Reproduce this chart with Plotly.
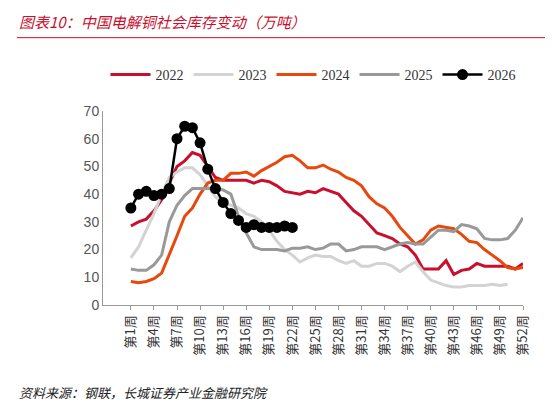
import plotly.graph_objects as go

weeks = [f"第{i}周" for i in range(1, 53)]
tick_weeks = [f"第{i}周" for i in range(1, 53, 3)]
s2022 = [28.5,30,31,34,38,44,50,52,55,54,50,46,45,45,45,45,44,45,44.5,43,41,40.5,40,41,40.5,42,41,40,37,34,32,29,26,25,24,22,21,18,13,13,13,16,11,12.5,13,15,14,14,14,14,13,15]
s2023 = [17,21,27,33,40,46,48,49.5,49.5,47,43,39,37,36,35,33,32,30,27,23,20,18,15.5,17,18,17.5,17.5,16,15,16,14,14,15,15,14,12,14,15.5,12,9,8,7,6.5,6.5,7,7,7,7.5,7,7.5]
s2024 = [8.5,8,8.5,9.5,11.5,18,25,32,35,40,44,45,45,47.5,47.5,48,46.5,48.5,50,51.5,53.5,54,52,49.5,49.5,50.5,49,48,46,45,43,39,36.5,35,32,28,25,22,23.5,27,28.5,28,27.5,25.5,23,22.5,20,18,16,13.5,13,13.5]
s2025 = [13,12.5,12.5,14.5,18,30,36,39.5,42,42,42,42,41.5,40,32,26,21,20,20,20,19.5,20.5,20.5,21,20,20.5,22,22,19.5,20,21,21,21,20,21,22,22.5,22,22,24.5,27,27,26.5,29,28.5,27.5,24,23.5,23.5,24,27,31.5]
s2026 = [35,40,41,39.5,40,42,60,64.5,64,58.5,49,42,37,33,30.5,28,29,28,28,28,28.5,28]

fig = go.Figure()
for name, ys, col in [("2022", s2022, "#C8102E"), ("2023", s2023, "#D3D3D3"),
                      ("2024", s2024, "#E8480C"), ("2025", s2025, "#999999")]:
    fig.add_trace(go.Scatter(x=weeks[:len(ys)], y=ys, name=name, mode="lines",
                             line=dict(color=col, width=3)))
fig.add_trace(go.Scatter(x=weeks[:len(s2026)], y=s2026, name="2026", mode="lines+markers",
                         line=dict(color="black", width=2.5), marker=dict(size=11, color="black")))

fig.update_layout(
    width=553, height=402, paper_bgcolor="white", plot_bgcolor="white",
    margin=dict(l=95, r=38, t=103, b=105, autoexpand=False),
    font=dict(family="Times New Roman, Liberation Serif, Noto Sans CJK SC", color="#333", size=13),
    legend=dict(orientation="h", x=0.5, xanchor="center", y=1.186, yanchor="middle",
                font=dict(size=14), itemwidth=40, tracegroupgap=0),
    showlegend=True,
)
fig.update_xaxes(type="category", categoryorder="array", categoryarray=weeks,
                 tickvals=tick_weeks, tickangle=-90, showline=True, linecolor="#999",
                 ticks="outside", tickcolor="#999", ticklen=4, showgrid=False, automargin=False,
                 tickfont=dict(family="Noto Sans CJK SC", size=13, color="#333"))
fig.update_yaxes(range=[0, 70], dtick=10, showline=True, linecolor="#999", showgrid=False,
                 ticks="", automargin=False,
                 tickfont=dict(family="Liberation Sans", size=14, color="#555"))

fig.add_annotation(xref="paper", yref="paper", x=-0.205, y=1.46, xanchor="left", yanchor="middle",
                   text="<i>图表10：中国电解铜社会库存变动（万吨）</i>", showarrow=False,
                   font=dict(family="Noto Sans CJK SC", size=15, color="#C8102E"))
fig.add_shape(type="line", xref="paper", yref="paper", x0=-0.205, x1=1.07, y0=1.378, y1=1.378,
              line=dict(color="#C8102E", width=1))
fig.add_annotation(xref="paper", yref="paper", x=-0.205, y=-0.45, xanchor="left", yanchor="middle",
                   text="<i>资料来源：钢联，长城证券产业金融研究院</i>", showarrow=False,
                   font=dict(family="Noto Sans CJK SC", size=13, color="#222"))
fig.write_html("out.html")
